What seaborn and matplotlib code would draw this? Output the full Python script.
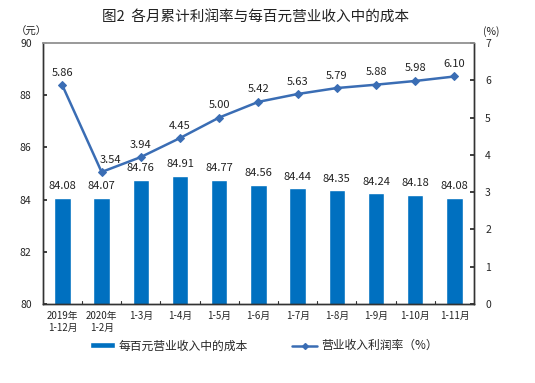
import matplotlib.pyplot as plt
import numpy as np
import pandas as pd
import seaborn as sns
from matplotlib.lines import Line2D
from matplotlib.patches import Patch

months = ['2019年\n1-12月', '2020年\n1-2月', '1-3月', '1-4月', '1-5月', '1-6月',
          '1-7月', '1-8月', '1-9月', '1-10月', '1-11月']
cost = [84.08, 84.07, 84.76, 84.91, 84.77, 84.56, 84.44, 84.35, 84.24, 84.18, 84.08]
margin = [5.86, 3.54, 3.94, 4.45, 5.00, 5.42, 5.63, 5.79, 5.88, 5.98, 6.10]

sns.set_theme(style='white')
plt.rcParams['font.family'] = ['Noto Sans CJK SC', 'DejaVu Sans']

bar_color = '#0070C0'
line_color = '#3A6DB4'

df = pd.DataFrame({'month': months, 'cost': cost, 'margin': margin})

fig = plt.figure(figsize=(5.35, 3.83), dpi=100)
ax = fig.add_axes([0.080, 0.206, 0.806, 0.682])

sns.barplot(data=df, x='month', y='cost', color=bar_color, width=0.42,
            saturation=1, ax=ax)
ax.set_ylim(80, 90)
ax.set_yticks(np.arange(80, 91, 2))
ax.set_xlim(-0.5, len(months) - 0.5)
ax.set_xlabel('')
ax.set_ylabel('')
for i, v in enumerate(cost):
    ax.text(i, v + 0.25, f'{v:.2f}', ha='center', va='bottom', fontsize=8, color='#222222')

ax2 = ax.twinx()
sns.lineplot(x=np.arange(len(months)), y=margin, ax=ax2, color=line_color,
             marker='D', markersize=4, linewidth=1.8, markeredgecolor=line_color)
ax2.set_ylim(0, 7)
ax2.set_yticks(range(0, 8))
for i, v in enumerate(margin):
    dx = 0.22 if i == 1 else 0
    ax2.text(i + dx, v + 0.2, f'{v:.2f}', ha='center', va='bottom', fontsize=8, color='#222222')

# category boundary ticks
ax.set_xticks(np.arange(len(months)))
ax.set_xticklabels(months, fontsize=7)
ax.tick_params(axis='x', length=0, pad=5)
for b in np.arange(0.5, len(months) - 0.5, 1):
    ax.plot([b, b], [80, 80.12], color='#333333', linewidth=0.8, clip_on=False)

ax.tick_params(axis='y', direction='in', length=3, labelsize=7.5, pad=8, left=True)
ax2.tick_params(axis='y', direction='in', length=3, labelsize=7.5, pad=8, right=True)

for a in (ax, ax2):
    for side in ('left', 'right', 'bottom'):
        a.spines[side].set_color('#333333')
        a.spines[side].set_linewidth(1.0)
    a.spines['top'].set_color('#999999')
    a.spines['top'].set_linewidth(1.2)

fig.text(0.478, 0.955, '图2  各月累计利润率与每百元营业收入中的成本', ha='center', va='center',
         fontsize=10.5, color='#222222')
fig.text(0.058, 0.918, '（元）', ha='center', va='center', fontsize=7.5, color='#222222')
fig.text(0.918, 0.918, '(%)', ha='center', va='center', fontsize=7.5, color='#222222')

handles = [Patch(facecolor=bar_color, label='每百元营业收入中的成本'),
           Line2D([0], [0], color=line_color, marker='D', markersize=3, linewidth=1.8,
                  label='营业收入利润率（%）')]
fig.legend(handles=handles, loc='center', bbox_to_anchor=(0.493, 0.097), ncol=2,
           frameon=False, fontsize=8.5, handlelength=2.1, handleheight=0.45,
           columnspacing=3.8, handletextpad=0.3)

fig.savefig('out.png', dpi=100)
